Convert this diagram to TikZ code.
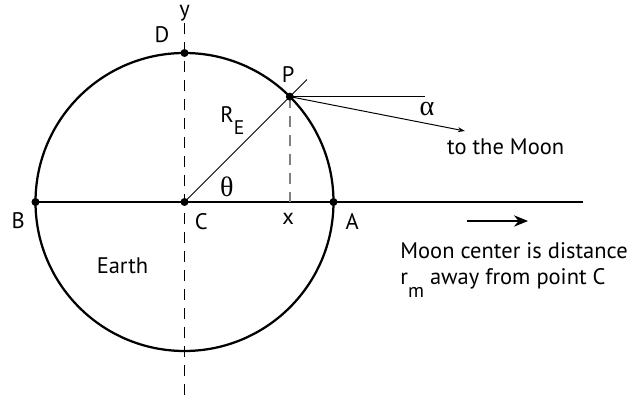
\documentclass[tikz,border=0pt]{standalone}
\usepackage{fontspec}
\setmainfont{PT Sans}
\newfontfamily\grk{Liberation Serif}
\usepackage{tikz}
\usetikzlibrary{calc,arrows.meta}

\tikzset{
  dot/.style = {fill = black},
  axisline/.style = {dash pattern = on 8pt off 5.5pt, line width = 1pt},
  lbl/.style = {font = \fontsize{16}{18}\selectfont, inner sep = 0pt}
}
\newcommand{\lowsub}[2]{\raisebox{-#1}{\fontsize{14}{16}\selectfont #2}}

\begin{document}
\begin{tikzpicture}
        \useasboundingbox(-4.6125,-5.0)rectangle(11.2875,5.05);
        \coordinate(C)at(0,0);
        \coordinate(A)at(0:3.725);
        \coordinate(B)at(180:3.725);
        \coordinate(D)at(90:3.725);
        \coordinate(P)at(45:3.725);
        \coordinate(Pout)at(45:4.33);
        \coordinate(Px)at(P|-C);
        \coordinate(ytop)at(0,4.5);
        \coordinate(ybot)at(0,-4.825);
        \coordinate(xend)at(9.96,0);
        \coordinate(Ph)at(6.01,0|-P);
        \coordinate(Moon)at(7.01,1.775);
        % Erde und Achsen
        \draw[axisline](ybot)to(ytop);
        \draw[line width = 1.6pt](C)circle(3.725);
        \draw[line width = 1.6pt](B)to(xend);
        \draw[axisline,gray](P)to(Px);
        % Radius und Richtungen
        \draw[line width = 0.7pt](C)to(Pout);
        \draw[line width = 0.7pt](P)to(Ph);
        \draw[line width = 0.7pt,-{Stealth[length=5pt,width=3.5pt]}](P)to(Moon);
        \foreach \p in {A,B,C,D,P}
        {
        \fill[dot](\p)circle(0.1);
        }
        % Beschriftung
        \node[lbl,anchor=north](ylbl)at(0,4.92){y};
        \node[lbl](Dlbl)at(-0.56,4.175){D};
        \node[lbl](Plbl)at(2.59,3.175){P};
        \node[lbl](Blbl)at(-4.16,-0.47){B};
        \node[lbl](Clbl)at(0.42,-0.5){C};
        \node[lbl](xlbl)at(2.59,-0.42){x};
        \node[lbl](Albl)at(4.19,-0.5){A};
        \node[lbl,anchor=base west](RElbl)at(0.89,1.975){R\lowsub{8pt}{E}};
        \node[lbl](thlbl)at(1.06,0.375){\grk\fontsize{20}{22}\selectfont θ};
        \node[lbl](allbl)at(6.06,2.325){\grk\fontsize{20}{22}\selectfont α};
        \node[lbl,anchor=west](moonlbl)at(6.56,1.375){to the Moon};
        \node[lbl](Earth)at(-1.55,-1.6){Earth};
        \coordinate(arrs)at(7.06,-0.475);
        \coordinate(arre)at(8.59,-0.475);
        \draw[line width = 1.6pt,-{Stealth[length=10pt,width=8pt]}](arrs)to(arre);
        \node[lbl,anchor=west,align=left,font=\fontsize{16}{18.5}\selectfont](dist)at(5.39,-1.7)
        {Moon center is distance\\r\lowsub{9pt}{m} away from point C};
    \end{tikzpicture}
\end{document}
